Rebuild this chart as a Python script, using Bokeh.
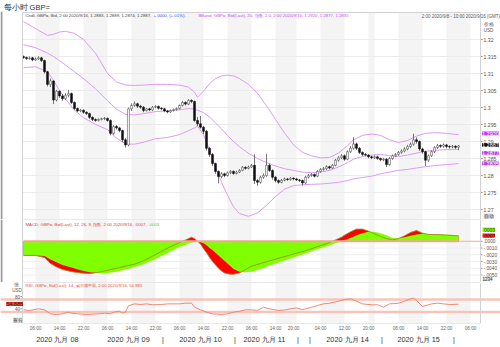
from bokeh.plotting import figure
from bokeh.layouts import column
from bokeh.models import (Range1d, LinearAxis, FixedTicker, Label, BoxAnnotation, Span, ColumnDataSource)
from bokeh.core.properties import value
from bokeh.embed import file_html
from bokeh.resources import INLINE

# ---------------- data (hourly GBP= bars, index = trading hour from 2020/9/8 02:00) ----------------
opens = [1.3150, 1.3147, 1.3144, 1.3146, 1.3140, 1.3143, 1.3146, 1.3138, 1.3105, 1.3068,
         1.3078, 1.3022, 1.3048, 1.3034, 1.3026, 1.3036, 1.3041, 1.3015, 1.2997, 1.2990,
         1.2992, 1.2986, 1.2982, 1.2971, 1.2965, 1.2962, 1.2965, 1.2967, 1.2968, 1.2962,
         1.2924, 1.2944, 1.2940, 1.2932, 1.2905, 1.2890, 1.2996, 1.3006, 1.3011, 1.3004,
         1.3001, 1.2991, 1.2996, 1.2993, 1.3001, 1.3003, 1.2998, 1.2996, 1.2990, 1.2987,
         1.2991, 1.2994, 1.2997, 1.3006, 1.3015, 1.3010, 1.3021, 1.3018, 1.2962, 1.2952,
         1.2942, 1.2930, 1.2880, 1.2862, 1.2835, 1.2812, 1.2797, 1.2805, 1.2800, 1.2808,
         1.2812, 1.2806, 1.2810, 1.2815, 1.2824, 1.2821, 1.2825, 1.2830, 1.2785, 1.2780,
         1.2795, 1.2800, 1.2830, 1.2815, 1.2795, 1.2785, 1.2780, 1.2786, 1.2790, 1.2788,
         1.2792, 1.2790, 1.2787, 1.2785, 1.2778, 1.2795, 1.2800, 1.2803, 1.2798, 1.2812,
         1.2818, 1.2820, 1.2826, 1.2822, 1.2830, 1.2845, 1.2852, 1.2858, 1.2848, 1.2870,
         1.2880, 1.2893, 1.2880, 1.2868, 1.2862, 1.2860, 1.2855, 1.2852, 1.2855, 1.2850,
         1.2846, 1.2848, 1.2832, 1.2850, 1.2858, 1.2862, 1.2868, 1.2872, 1.2878, 1.2885,
         1.2892, 1.2905, 1.2900, 1.2878, 1.2870, 1.2845, 1.2858, 1.2870, 1.2882, 1.2888,
         1.2886, 1.2890, 1.2885, 1.2884, 1.2886, 1.2883]
highs = [1.3153, 1.3150, 1.3150, 1.3149, 1.3147, 1.3151, 1.3149, 1.3141, 1.3108, 1.3085,
         1.3080, 1.3052, 1.3050, 1.3040, 1.3042, 1.3052, 1.3044, 1.3018, 1.3000, 1.2996,
         1.2995, 1.2989, 1.2985, 1.2974, 1.2968, 1.2968, 1.2970, 1.2972, 1.2971, 1.2965,
         1.2948, 1.2949, 1.2943, 1.2935, 1.2910, 1.3000, 1.3012, 1.3018, 1.3014, 1.3008,
         1.3004, 1.2999, 1.2999, 1.3004, 1.3007, 1.3006, 1.3001, 1.2999, 1.2993, 1.2994,
         1.2997, 1.3000, 1.3009, 1.3019, 1.3018, 1.3025, 1.3024, 1.3020, 1.2972, 1.2975,
         1.2946, 1.2934, 1.2884, 1.2866, 1.2838, 1.2815, 1.2810, 1.2808, 1.2812, 1.2816,
         1.2815, 1.2814, 1.2819, 1.2828, 1.2827, 1.2829, 1.2834, 1.2862, 1.2790, 1.2799,
         1.2806, 1.2864, 1.2835, 1.2818, 1.2798, 1.2789, 1.2790, 1.2794, 1.2793, 1.2796,
         1.2795, 1.2793, 1.2790, 1.2788, 1.2799, 1.2804, 1.2807, 1.2806, 1.2816, 1.2822,
         1.2825, 1.2830, 1.2829, 1.2834, 1.2849, 1.2857, 1.2863, 1.2862, 1.2874, 1.2886,
         1.2913, 1.2897, 1.2884, 1.2871, 1.2866, 1.2863, 1.2858, 1.2859, 1.2858, 1.2853,
         1.2852, 1.2851, 1.2854, 1.2862, 1.2866, 1.2872, 1.2877, 1.2883, 1.2890, 1.2897,
         1.2923, 1.2912, 1.2903, 1.2882, 1.2873, 1.2862, 1.2874, 1.2886, 1.2893, 1.2892,
         1.2894, 1.2893, 1.2889, 1.2890, 1.2889, 1.2889]
lows = [1.3143, 1.3140, 1.3141, 1.3136, 1.3137, 1.3140, 1.3134, 1.3100, 1.3062, 1.3060,
        1.3010, 1.3018, 1.3028, 1.3020, 1.3022, 1.3030, 1.3010, 1.2992, 1.2986, 1.2986,
        1.2982, 1.2978, 1.2966, 1.2960, 1.2958, 1.2959, 1.2962, 1.2963, 1.2958, 1.2918,
        1.2920, 1.2935, 1.2927, 1.2898, 1.2882, 1.2886, 1.2990, 1.3002, 1.2999, 1.2996,
        1.2986, 1.2988, 1.2989, 1.2990, 1.2998, 1.2994, 1.2992, 1.2986, 1.2983, 1.2984,
        1.2988, 1.2991, 1.2994, 1.3003, 1.3006, 1.3007, 1.3013, 1.2958, 1.2945, 1.2938,
        1.2922, 1.2874, 1.2855, 1.2828, 1.2805, 1.2777, 1.2792, 1.2795, 1.2797, 1.2804,
        1.2802, 1.2803, 1.2807, 1.2812, 1.2817, 1.2818, 1.2822, 1.2775, 1.2770, 1.2776,
        1.2790, 1.2796, 1.2810, 1.2788, 1.2780, 1.2776, 1.2777, 1.2783, 1.2784, 1.2785,
        1.2786, 1.2784, 1.2781, 1.2770, 1.2775, 1.2791, 1.2796, 1.2794, 1.2795, 1.2808,
        1.2814, 1.2816, 1.2818, 1.2819, 1.2827, 1.2841, 1.2848, 1.2843, 1.2845, 1.2866,
        1.2876, 1.2875, 1.2863, 1.2857, 1.2856, 1.2851, 1.2848, 1.2849, 1.2846, 1.2842,
        1.2842, 1.2825, 1.2829, 1.2846, 1.2854, 1.2858, 1.2864, 1.2868, 1.2874, 1.2881,
        1.2888, 1.2894, 1.2872, 1.2864, 1.2828, 1.2840, 1.2854, 1.2866, 1.2878, 1.2881,
        1.2882, 1.2880, 1.2879, 1.2880, 1.2878, 1.2874]
closes = [1.3147, 1.3144, 1.3146, 1.3140, 1.3143, 1.3146, 1.3138, 1.3105, 1.3068, 1.3078,
          1.3022, 1.3048, 1.3034, 1.3026, 1.3036, 1.3041, 1.3015, 1.2997, 1.2990, 1.2992,
          1.2986, 1.2982, 1.2971, 1.2965, 1.2962, 1.2965, 1.2967, 1.2968, 1.2962, 1.2924,
          1.2944, 1.2940, 1.2932, 1.2905, 1.2890, 1.2996, 1.3006, 1.3011, 1.3004, 1.3001,
          1.2991, 1.2996, 1.2993, 1.3001, 1.3003, 1.2998, 1.2996, 1.2990, 1.2987, 1.2991,
          1.2994, 1.2997, 1.3006, 1.3015, 1.3010, 1.3021, 1.3018, 1.2962, 1.2952, 1.2942,
          1.2930, 1.2880, 1.2862, 1.2835, 1.2812, 1.2797, 1.2805, 1.2800, 1.2808, 1.2812,
          1.2806, 1.2810, 1.2815, 1.2824, 1.2821, 1.2825, 1.2830, 1.2785, 1.2780, 1.2795,
          1.2800, 1.2830, 1.2815, 1.2795, 1.2785, 1.2780, 1.2786, 1.2790, 1.2788, 1.2792,
          1.2790, 1.2787, 1.2785, 1.2778, 1.2795, 1.2800, 1.2803, 1.2798, 1.2812, 1.2818,
          1.2820, 1.2826, 1.2822, 1.2830, 1.2845, 1.2852, 1.2858, 1.2848, 1.2870, 1.2880,
          1.2893, 1.2880, 1.2868, 1.2862, 1.2860, 1.2855, 1.2852, 1.2855, 1.2850, 1.2846,
          1.2848, 1.2832, 1.2850, 1.2858, 1.2862, 1.2868, 1.2872, 1.2878, 1.2885, 1.2892,
          1.2905, 1.2900, 1.2878, 1.2870, 1.2845, 1.2858, 1.2870, 1.2882, 1.2888, 1.2886,
          1.2890, 1.2885, 1.2884, 1.2886, 1.2883, 1.2887]

bb_idx = [0, 4, 8, 10, 12, 14, 17, 20, 24, 28, 31, 34, 37, 40, 44, 48, 52, 55, 57, 58,
          60, 62, 64, 66, 68, 70, 72, 75, 78, 81, 84, 87, 90, 93, 96, 99, 102, 105, 108, 110,
          113, 116, 119, 122, 125, 128, 131, 134, 137, 141, 145]
bb_upper = [1.3253, 1.3232, 1.3212, 1.3215, 1.3222, 1.3224, 1.3218, 1.3200, 1.3160, 1.3100,
            1.3075, 1.3066, 1.3065, 1.3066, 1.3068, 1.3068, 1.3066, 1.3060, 1.3045, 1.3030,
            1.3048, 1.3070, 1.3085, 1.3093, 1.3095, 1.3093, 1.3085, 1.3068, 1.3042, 1.3005,
            1.2965, 1.2925, 1.2890, 1.2868, 1.2858, 1.2852, 1.2853, 1.2866, 1.2888, 1.2905,
            1.2918, 1.2922, 1.2918, 1.2905, 1.2897, 1.2903, 1.2916, 1.2924, 1.2926, 1.2924,
            1.2920]
bb_middle = [1.3185, 1.3176, 1.3160, 1.3150, 1.3138, 1.3125, 1.3105, 1.3085, 1.3055, 1.3020,
             1.2995, 1.2980, 1.2978, 1.2982, 1.2988, 1.2990, 1.2993, 1.2997, 1.2995, 1.2992,
             1.2985, 1.2972, 1.2955, 1.2937, 1.2918, 1.2900, 1.2885, 1.2865, 1.2850, 1.2838,
             1.2828, 1.2820, 1.2815, 1.2810, 1.2808, 1.2810, 1.2815, 1.2825, 1.2838, 1.2848,
             1.2856, 1.2860, 1.2862, 1.2858, 1.2856, 1.2860, 1.2866, 1.2871, 1.2874, 1.2876,
             1.2877]
bb_lower = [1.3117, 1.3120, 1.3105, 1.3080, 1.3050, 1.3025, 1.2992, 1.2970, 1.2950, 1.2935,
            1.2910, 1.2893, 1.2892, 1.2898, 1.2908, 1.2912, 1.2920, 1.2932, 1.2940, 1.2945,
            1.2920, 1.2875, 1.2825, 1.2780, 1.2742, 1.2708, 1.2688, 1.2680, 1.2690, 1.2712,
            1.2738, 1.2760, 1.2770, 1.2773, 1.2774, 1.2775, 1.2777, 1.2780, 1.2785, 1.2790,
            1.2794, 1.2798, 1.2805, 1.2810, 1.2815, 1.2818, 1.2822, 1.2826, 1.2829, 1.2832,
            1.2835]

macd_idx = [0, 4, 7, 9, 11, 13, 16, 19, 22, 25, 28, 31, 34, 37, 40, 43, 46, 49, 52, 54,
            56, 57, 58, 59, 60, 61, 62, 63, 64, 65, 66, 67, 68, 69, 70, 72, 74, 76, 79, 82,
            86, 90, 94, 98, 102, 104, 106, 107, 109, 111, 113, 115, 117, 119, 121, 123, 125, 127, 129, 131,
            133, 135, 138, 141, 145]
macd_vals = [-0.0021, -0.0021, -0.0024, -0.0033, -0.0038, -0.0042, -0.0045, -0.0047, -0.0048, -0.0046,
             -0.0043, -0.0040, -0.0037, -0.0034, -0.0029, -0.0022, -0.0015, -0.0008, -0.0002, 0.0002,
             0.0006, 0.0004, 0.0000, -0.0004, -0.0011, -0.0017, -0.0024, -0.0030, -0.0035, -0.0040,
             -0.0044, -0.0047, -0.0048, -0.0049, -0.0049, -0.0047, -0.0042, -0.0037, -0.0033, -0.0029,
             -0.0024, -0.0019, -0.0014, -0.0008, -0.0002, 0.0002, 0.0006, 0.0009, 0.0014, 0.0018,
             0.0018, 0.0015, 0.0011, 0.0007, 0.0004, 0.0002, 0.0004, 0.0008, 0.0013, 0.0016,
             0.0012, 0.0010, 0.0010, 0.0009, 0.0008]
signal_vals = [-0.0021, -0.0021, -0.0022, -0.0027, -0.0031, -0.0035, -0.0039, -0.0043, -0.0046, -0.0047,
               -0.0047, -0.0045, -0.0042, -0.0038, -0.0034, -0.0028, -0.0022, -0.0015, -0.0008, -0.0005,
               -0.0002, -0.0001, 0.0000, -0.0001, -0.0003, -0.0006, -0.0010, -0.0013, -0.0017, -0.0021,
               -0.0025, -0.0029, -0.0033, -0.0037, -0.0041, -0.0045, -0.0046, -0.0045, -0.0041, -0.0036,
               -0.0030, -0.0024, -0.0018, -0.0012, -0.0006, -0.0003, 0.0000, 0.0002, 0.0005, 0.0009,
               0.0012, 0.0014, 0.0014, 0.0012, 0.0009, 0.0005, 0.0005, 0.0006, 0.0008, 0.0010,
               0.0011, 0.0011, 0.0010, 0.0010, 0.0009]

rsi_idx = [0, 2, 5, 7, 9, 11, 13, 15, 16, 18, 21, 25, 27, 29, 30, 32, 33, 34, 35, 37,
           39, 41, 43, 46, 48, 50, 52, 54, 56, 57, 59, 61, 63, 66, 68, 70, 72, 74, 76, 78,
           80, 82, 85, 87, 89, 91, 93, 96, 98, 100, 102, 105, 107, 109, 111, 113, 116, 118, 120, 122,
           125, 127, 129, 130, 131, 133, 136, 138, 140, 142, 145]
rsi_vals = [36.7, 34.5, 40, 36.7, 23.7, 21.5, 23.7, 29, 25.8, 23.7, 21.5, 23.7, 25.8, 23.7, 29, 32, 25.8, 30, 50, 56,
            54, 56, 53, 54, 56, 56, 56, 58, 58.3, 45, 36.7, 29, 23.7, 21.5, 23.7, 29, 32, 36.7, 36.7, 35,
            45, 40, 34.5, 36, 40, 43, 37, 45, 50.7, 56, 58, 64.7, 70, 72.4, 64.7, 56, 53, 53, 45, 56,
            58, 64.7, 72.4, 74.5, 67, 47.5, 56, 58.3, 56, 54, 54.9]
rsi_levels = [70, 30]

time_tick_idx = [4, 12, 20, 28, 36, 44, 52, 60, 68, 76, 84, 90, 99, 107, 115, 125, 133, 141, 149]
time_tick_labels = ["06:00", "14:00", "22:00", "06:00", "14:00", "22:00", "06:00", "14:00", "22:00",
                    "06:00", "14:00", "20:00", "04:00", "12:00", "20:00", "06:00", "14:00", "22:00", "06:00"]
day_label_idx = [11.3, 35.0, 59.0, 80.3, 108.0, 131.7]
day_labels = ["2020 九月 08", "2020 九月 09", "2020 九月 10", "2020 九月 11", "2020 九月 14", "2020 九月 15"]
day_sep_idx = [46.5, 70.5, 91.5, 95.5, 119.5, 143.5]
shade_bands = [(4, 12), (20, 28), (36, 44), (52, 60), (68, 76), (84, 91), (99, 107), (115, 117), (125, 133), (141, 149)]

price_ticks = [1.27, 1.275, 1.28, 1.285, 1.29, 1.295, 1.3, 1.305, 1.31, 1.315, 1.32]
price_tick_labels = ["1.27", "1.275", "1.28", "1.285", "1.29", "1.295", "1.3", "1.305", "1.31", "1.315", "1.32"]
macd_ticks = [0.0, -0.001, -0.002, -0.003, -0.004, -0.005]
macd_tick_labels = [".0000", "-.0010", "-.0020", "-.0030", "-.0040", "-.0050"]
rsi_ticks = [40, 80]
rsi_tick_labels = ["40", "80"]

title_text = "每小时 GBP="
range_text = "2:00 2020/9/8 - 10:00 2020/9/16 (GMT)"
cndl_legend = "Cndl, GBP=, Bid, 2:00 2020/9/16, 1.2883, 1.2889, 1.2874, 1.2887,"
chg_legend = "+.0000, (+.01%),"
bb_legend = "BBand, GBP=, Bid(Last), 20, 指数, 2.0, 2:00 2020/9/16, 1.2920, 1.2877, 1.2835"
macd_legend = "MACD, GBP=, Bid(Last), 12, 26, 9, 指数, 2:00 2020/9/16, .0007,"
macd_legend2 = ".0003"
rsi_legend = "RSI, GBP=, Bid(Last), 14, 威尔德平滑, 2:00 2020/9/16, 54.885"

# ---------------- layout helpers ----------------
W = 500
PX = 3.0                      # pixels per hourly bar
X0 = -1.0 / 3                 # data x at the left edge of the plot box (pixel 22)
X1 = X0 + (480 - 22) / PX     # data x at the right edge of the plot box (pixel 480)
XF0, XF1 = X0 - 22 / PX, X0 + (W - 22) / PX   # whole canvas width
FONT = "Liberation Sans"
xr = Range1d(XF0, XF1)


def xd(px):
    return XF0 + px / PX


def lab(fig, x, y, text, size, color, align="left", bg=None, baseline="middle"):
    kw = dict(x=x, y=y, text=text, text_font=FONT, text_font_size=f"{size}px",
              text_color=color, text_align=align, text_baseline=baseline)
    if bg is not None:
        kw["background_fill_color"] = bg
    fig.add_layout(Label(**kw))


def panel(height, y_lo, y_hi, box_lo, box_hi, bottom=0):
    f = figure(width=W, height=height, x_range=xr, y_range=Range1d(y_lo, y_hi),
               toolbar_location=None, output_backend="svg",
               x_axis_location=None, y_axis_location=None,
               min_border_left=0, min_border_right=0, min_border_top=0, min_border_bottom=bottom,
               outline_line_color=None, background_fill_color="white", border_fill_color="white")
    f.grid.visible = False
    for a, b in shade_bands:
        f.add_layout(BoxAnnotation(left=a, right=b, top=box_hi, bottom=box_lo, fill_color="#f4f4f4",
                                   fill_alpha=1.0, line_color=None, level="underlay"))
    return f


def plot_box(f, lo, hi):
    f.quad(left=[X0], right=[X1], bottom=[lo], top=[hi], fill_alpha=0,
           line_color="#d2d2d2", line_width=1)


def y_axis(f, ticks, labels, side, size, grid=None):
    n = len(ticks)
    if grid:
        f.segment(x0=[X0] * n, x1=[X1] * n, y0=ticks, y1=ticks, line_color=grid, line_width=1)
    if side == "right":
        f.segment(x0=[X1] * n, x1=[X1 + 2 / PX] * n, y0=ticks, y1=ticks, line_color="#999999", line_width=1)
        f.text(x=[X1 + 3 / PX] * n, y=ticks, text=labels, text_font=value(FONT), text_font_size=f"{size}px",
               text_color="#555555", text_align="left", text_baseline="middle")
    else:
        f.segment(x0=[X0 - 2 / PX] * n, x1=[X0] * n, y0=ticks, y1=ticks, line_color="#999999", line_width=1)
        f.text(x=[X0 - 2.5 / PX] * n, y=ticks, text=labels, text_font=value(FONT), text_font_size=f"{size}px",
               text_color="#555555", text_align="right", text_baseline="middle")


# ---------------- header ----------------
hdr = figure(width=W, height=11, x_range=Range1d(0, W), y_range=Range1d(11, 0),
             toolbar_location=None, output_backend="svg", x_axis_location=None,
             y_axis_location=None, min_border=0, outline_line_color=None)
hdr.grid.visible = False
hdr.add_layout(Span(location=10.4, dimension="width", line_color="#9c9c9c", line_width=1.4))
hdr.add_layout(Label(x=3, y=5.5, text=title_text, text_font=FONT, text_font_size="7.5px",
                     text_color="#333333", text_baseline="middle"))


# ---------------- price panel (canvas rows 11..219) ----------------
def py(cy):
    return 1.32 - (cy - 39) / 3400.0


pp = panel(208, py(219), py(11), py(219), py(12))
y_axis(pp, price_ticks, price_tick_labels, "right", 5.2, grid="#ebebeb")

idx = list(range(len(closes)))
src = ColumnDataSource(dict(
    x=idx,
    top=[max(o, c) for o, c in zip(opens, closes)],
    bottom=[min(o, c) for o, c in zip(opens, closes)],
    high=highs, low=lows,
    fill=["#ffffff" if c >= o else "#111111" for o, c in zip(opens, closes)],
    edge=["#555555" if c >= o else "#111111" for o, c in zip(opens, closes)],
))
pp.line(bb_idx, bb_upper, line_color="#dd9cf6", line_width=1)
pp.line(bb_idx, bb_middle, line_color="#dd9cf6", line_width=1)
pp.line(bb_idx, bb_lower, line_color="#dd9cf6", line_width=1)
pp.segment(x0="x", x1="x", y0="low", y1="high", source=src, line_color="#555555", line_width=0.8)
pp.vbar(x="x", width=0.62, top="top", bottom="bottom", fill_color="fill", line_color="edge",
        line_width=0.6, source=src)
plot_box(pp, py(219), py(12))
pp.segment(x0=[xd(1)], x1=[xd(1)], y0=[py(219)], y1=[py(11)], line_color="#9c9c9c", line_width=2)

lab(pp, xd(25), py(15), cndl_legend, 4.3, "#444444")
lab(pp, xd(153), py(15), chg_legend, 4.3, "#3a3aff")
lab(pp, xd(198), py(15), bb_legend, 4.3, "#c050f0")
lab(pp, xd(499.5), py(16), range_text, 4.5, "#555555", align="right")
lab(pp, xd(488), py(23.5), "价格", 4.5, "#555555", align="center")
lab(pp, xd(488), py(29.5), "USD", 4.5, "#555555", align="center")
lab(pp, xd(481.5), py(133), "1.2920", 5.5, "#ffffff", bg="#c23cf0")
lab(pp, xd(481.5), py(144.5), "1.2887", 5.5, "#ffffff", bg="#111111")
lab(pp, xd(481.5), py(152.5), "1.2877", 5.5, "#ffffff", bg="#c23cf0")
lab(pp, xd(481.5), py(163), "1.2835", 5.5, "#ffffff", bg="#c23cf0")
lab(pp, xd(483), py(215.5), "自动", 4.5, "#333333", bg="#dcdcdc")


# ---------------- MACD panel (canvas rows 219..282) ----------------
def my(cy):
    return -(cy - 240.75) / 6750.0


pm = panel(63, my(282), my(219), my(282), my(219))
y_axis(pm, macd_ticks, macd_tick_labels, "right", 4.8, grid="#eeeeee")
pm.varea(x=macd_idx, y1=0, y2=macd_vals, fill_color="#ff0000")
pm.varea(x=macd_idx, y1=0, y2=signal_vals, fill_color="#80ff00")
pm.line(macd_idx, macd_vals, line_color="#a68a2c", line_width=0.9)
pm.segment(x0=[macd_idx[0]], x1=[macd_idx[-1]], y0=[0], y1=[0], line_color="#f5a596", line_width=2)
pm.segment(x0=[macd_idx[-1]], x1=[X1], y0=[0], y1=[0], line_color="#f07060", line_width=1, line_dash="1 1")
plot_box(pm, my(282), my(219))
pm.segment(x0=[xd(1)], x1=[xd(1)], y0=[my(282)], y1=[my(219)], line_color="#9c9c9c", line_width=2)

lab(pm, xd(25), my(223.5), macd_legend, 4.3, "#e33a2e")
lab(pm, xd(148), my(223.5), macd_legend2, 4.3, "#7cc400")
lab(pm, xd(482), my(229), ".0003", 5.0, "#333333", bg="#80ff00")
lab(pm, xd(482), my(235), ".0007", 5.0, "#222222", bg="#ff1a1a")
lab(pm, xd(482), my(278), "1234", 4.5, "#333333", bg="#dcdcdc")


# ---------------- RSI panel (canvas rows 282..323, x axes below) ----------------
def ry(cy):
    return 80 - (cy - 296) / 0.3075


pr = panel(65, ry(323), ry(282), ry(323), ry(282), bottom=24)
for lv in rsi_levels:
    pr.add_layout(Span(location=lv, dimension="width", line_color="#f8c4ba", line_width=2.5, level="underlay"))
y_axis(pr, rsi_ticks, rsi_tick_labels, "left", 4.5)
pr.line(rsi_idx, rsi_vals, line_color="#f07a66", line_width=0.9)
plot_box(pr, ry(323), ry(282))

ta = LinearAxis(ticker=FixedTicker(ticks=time_tick_idx),
                major_label_overrides=dict(zip(time_tick_idx, time_tick_labels)),
                axis_line_color=None, major_tick_line_color=None, major_tick_out=0, major_tick_in=0,
                minor_tick_line_color=None, minor_tick_out=0, major_label_standoff=2,
                major_label_text_font=FONT, major_label_text_font_size="4.7px",
                major_label_text_color="#666666")
pr.add_layout(ta, "below")
day_over = dict(zip(day_label_idx, day_labels))
day_over.update({s: "|" for s in day_sep_idx})
da = LinearAxis(ticker=FixedTicker(ticks=day_label_idx + day_sep_idx),
                major_label_overrides=day_over,
                axis_line_color=None, major_tick_line_color=None, major_tick_out=0, major_tick_in=0,
                minor_tick_line_color=None, minor_tick_out=0, major_label_standoff=1,
                major_label_text_font=FONT, major_label_text_font_size="7.3px",
                major_label_text_color="#333333")
pr.add_layout(da, "below")

lab(pr, xd(25), ry(284.8), rsi_legend, 4.3, "#f0503c")
lab(pr, xd(15.5), ry(283.8), "值", 4.5, "#555555", align="center")
lab(pr, xd(16.5), ry(289.5), "USD", 4.5, "#555555", align="center")
lab(pr, xd(22.5), ry(303.5), "54.885", 5.5, "#222222", align="right", bg="#f4402c")
lab(pr, xd(22.5), ry(319.5), "百分", 4.5, "#333333", align="right", bg="#dcdcdc")

layout = column(hdr, pp, pm, pr, spacing=0)
open("out.html", "w").write(file_html(layout, INLINE))
